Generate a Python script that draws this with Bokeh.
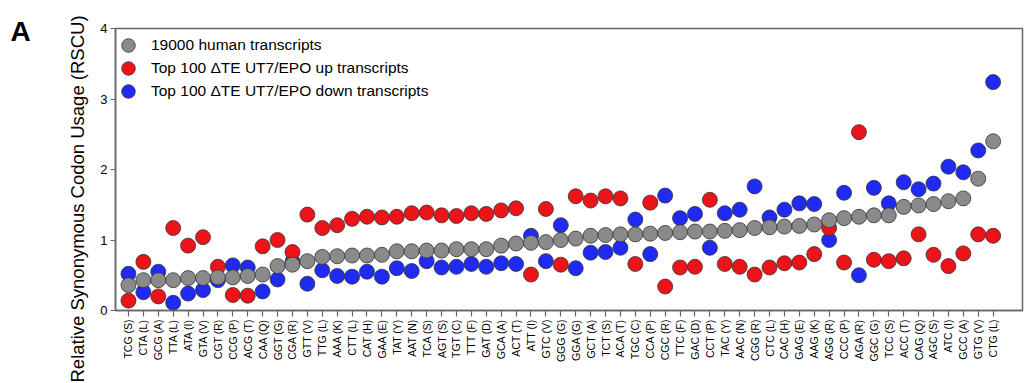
import math
from bokeh.plotting import figure
from bokeh.models import (ColumnDataSource, Range1d, FixedTicker, Legend, LegendItem, Title)
from bokeh.embed import file_html
from bokeh.resources import INLINE

# Codons, ordered by genome-wide RSCU
codons = ["TCG (S)", "CTA (L)", "GCG (A)", "TTA (L)", "ATA (I)", "GTA (V)", "CGT (R)",
          "CCG (P)", "ACG (T)", "CAA (Q)", "GGT (G)", "CGA (R)", "GTT (V)", "TTG (L)",
          "AAA (K)", "CTT (L)", "CAT (H)", "GAA (E)", "TAT (Y)", "AAT (N)", "TCA (S)",
          "AGT (S)", "TGT (C)", "TTT (F)", "GAT (D)", "GCA (A)", "ACT (T)", "ATT (I)",
          "GTC (V)", "GGG (G)", "GGA (G)", "GCT (A)", "TCT (S)", "ACA (T)", "TGC (C)",
          "CCA (P)", "CGC (R)", "TTC (F)", "GAC (D)", "CCT (P)", "TAC (Y)", "AAC (N)",
          "CGG (R)", "CTC (L)", "CAC (H)", "GAG (E)", "AAG (K)", "AGG (R)", "CCC (P)",
          "AGA (R)", "GGC (G)", "TCC (S)", "ACC (T)", "CAG (Q)", "AGC (S)", "ATC (I)",
          "GCC (A)", "GTG (V)", "CTG (L)"]

rscu_all = [0.36, 0.43, 0.43, 0.43, 0.46, 0.46, 0.47, 0.47, 0.49, 0.51, 0.63, 0.65, 0.70,
            0.76, 0.77, 0.78, 0.78, 0.79, 0.84, 0.84, 0.85, 0.85, 0.87, 0.87, 0.87, 0.92,
            0.95, 0.96, 0.97, 1.00, 1.02, 1.06, 1.07, 1.08, 1.08, 1.09, 1.10, 1.11, 1.12,
            1.12, 1.13, 1.14, 1.17, 1.18, 1.19, 1.20, 1.22, 1.28, 1.31, 1.33, 1.35, 1.35,
            1.47, 1.49, 1.51, 1.55, 1.59, 1.87, 2.40]

rscu_up = [0.14, 0.69, 0.20, 1.17, 0.92, 1.04, 0.62, 0.22, 0.21, 0.91, 1.00, 0.83, 1.36,
           1.17, 1.21, 1.30, 1.33, 1.32, 1.33, 1.38, 1.39, 1.35, 1.34, 1.38, 1.37, 1.42,
           1.45, 0.51, 1.44, 0.65, 1.62, 1.56, 1.62, 1.59, 0.66, 1.53, 0.34, 0.61, 0.62,
           1.57, 0.66, 0.62, 0.51, 0.61, 0.67, 0.68, 0.80, 1.17, 0.68, 2.53, 0.72, 0.70,
           0.74, 1.08, 0.79, 0.63, 0.81, 1.08, 1.06]

rscu_down = [0.52, 0.26, 0.55, 0.11, 0.24, 0.29, 0.43, 0.64, 0.61, 0.27, 0.44, 0.69, 0.38,
             0.57, 0.49, 0.48, 0.55, 0.48, 0.60, 0.56, 0.70, 0.61, 0.62, 0.66, 0.62, 0.67,
             0.66, 1.06, 0.70, 1.21, 0.60, 0.82, 0.83, 0.89, 1.29, 0.80, 1.63, 1.31, 1.37,
             0.89, 1.38, 1.43, 1.76, 1.32, 1.43, 1.52, 1.51, 1.00, 1.67, 0.50, 1.74, 1.52,
             1.82, 1.72, 1.80, 2.04, 1.96, 2.27, 3.24]

y_ticks = [0, 1, 2, 3, 4]

series_names = ["19000 human transcripts",
                "Top 100 \u0394TE UT7/EPO up transcripts",
                "Top 100 \u0394TE UT7/EPO down transcripts"]

FONT = "Liberation Sans"
AXIS_COLOR = "#666666"

xpos = list(range(1, len(codons) + 1))
src = ColumnDataSource(dict(x=xpos, all=rscu_all, up=rscu_up, down=rscu_down))

p = figure(width=1029, height=383, output_backend="svg", toolbar_location=None,
           x_range=Range1d(0.13, len(codons) + 1.97), y_range=Range1d(0, 4),
           min_border_left=115, min_border_right=7, min_border_top=28,
           min_border_bottom=73)
p.grid.visible = False
p.outline_line_color = AXIS_COLOR
p.outline_line_width = 1.5
p.background_fill_color = "white"
p.border_fill_color = "white"

# panel letter, drawn through the figure title
p.title.text = "A"
p.title.align = "left"
p.title.offset = -105
p.title.vertical_align = "bottom"
p.title.standoff = -36
p.title.text_font = FONT
p.title.text_font_size = "28px"
p.title.text_font_style = "bold"
p.title.text_color = "black"

marker_kw = dict(size=15, line_color="#333333", line_width=0.8)
r_down = p.scatter("x", "down", source=src, fill_color="#1f2bf5", **marker_kw)
r_up = p.scatter("x", "up", source=src, fill_color="#ec1419", **marker_kw)
r_all = p.scatter("x", "all", source=src, fill_color="#8a8a8a", **marker_kw)

# x axis: one vertical codon label per tick
xa = p.xaxis[0]
xa.ticker = FixedTicker(ticks=xpos)
xa.major_label_overrides = {i: c for i, c in zip(xpos, codons)}
xa.major_label_orientation = math.pi / 2
xa.major_label_text_font = FONT
xa.major_label_text_font_size = "10.5px"
xa.major_label_text_color = "black"
xa.major_label_standoff = 3
xa.major_tick_out = 6
xa.major_tick_in = 0
xa.minor_tick_line_color = None
xa.axis_line_color = AXIS_COLOR
xa.axis_line_width = 1.5
xa.major_tick_line_color = AXIS_COLOR
xa.major_tick_line_width = 1.2

ya = p.yaxis[0]
ya.ticker = FixedTicker(ticks=y_ticks)
ya.major_label_text_font = FONT
ya.major_label_text_font_size = "13px"
ya.major_label_text_color = "black"
ya.major_label_standoff = 3
ya.major_tick_out = 5
ya.major_tick_in = 0
ya.minor_tick_line_color = None
ya.axis_line_color = AXIS_COLOR
ya.axis_line_width = 1.5
ya.major_tick_line_color = AXIS_COLOR
ya.major_tick_line_width = 1.2

# y-axis title as a side title, shifted down from the frame bottom
p.add_layout(Title(text="Relative Synonymous Codon Usage (RSCU)", align="left",
                   offset=-72, vertical_align="bottom", standoff=20,
                   text_font=FONT, text_font_size="18.5px", text_font_style="normal",
                   text_color="black"), "left")

# one legend per series so that rows can sit closer than the marker box
renderers = [r_all, r_up, r_down]
row_bottoms = [248, 225, 202]
for name, rend, yb in zip(series_names, renderers, row_bottoms):
    lg = Legend(items=[LegendItem(label=name, renderers=[rend])],
                location=(-4, yb), margin=0, padding=0, spacing=0,
                glyph_width=34, glyph_height=34, label_height=23, label_standoff=6,
                label_text_font=FONT, label_text_font_size="15.5px",
                label_text_color="black",
                background_fill_alpha=0, border_line_alpha=0)
    p.add_layout(lg)

open("out.html", "w").write(file_html(p, INLINE))
